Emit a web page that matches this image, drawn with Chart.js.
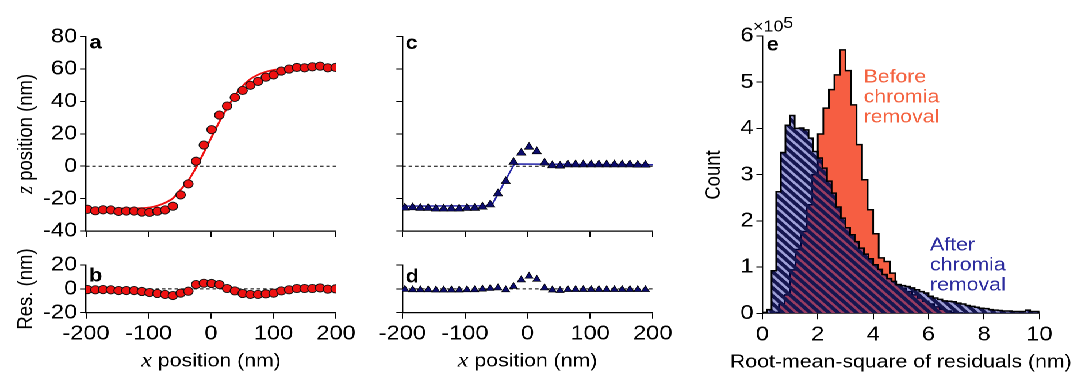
<!DOCTYPE html>
<html><head><meta charset="utf-8">
<script src="https://cdn.jsdelivr.net/npm/chart.js@4.4.1/dist/chart.umd.min.js"></script>
<style>
html,body{margin:0;padding:0;background:#fff;overflow:hidden;width:1074px;height:374px;}
#wrap{position:absolute;left:0;top:0;width:934px;height:374px;transform:scaleX(1.15);transform-origin:0 0;}
#wrap canvas{position:absolute;left:0;top:0;}
</style></head><body><div id="wrap"></div>
<script>
// ---------------- data ----------------
// panel a/b : x positions (nm), measured z (nm), fitted curve (nm), residuals (nm)
const xPosA = [-197.5,-185.1,-172.7,-160.3,-147.9,-135.5,-123.1,-110.7,-98.3,-85.9,-73.5,-61.1,-48.7,-36.3,-23.9,-11.5,0.9,13.3,25.7,38.1,50.5,62.9,75.3,87.7,100.1,112.5,124.9,137.3,149.7,162.1,174.5,186.9,199.3];
const zPosA = [-26.6,-27.5,-26.9,-27.0,-27.9,-27.7,-27.7,-28.3,-28.5,-27.8,-27.0,-24.7,-17.7,-10.9,3.1,13.1,22.6,31.6,37.2,42.5,46.8,50.0,52.4,55.0,56.4,58.8,60.0,61.0,60.8,61.4,61.8,60.8,61.0];
const fitA  = [-26.0,-26.1,-26.1,-26.1,-26.1,-26.0,-26.0,-25.9,-25.5,-24.4,-22.6,-19.8,-14.5,-8.8,-0.8,8.5,18.0,27.5,36.0,43.5,49.5,53.8,56.5,58.3,59.4,60.0,60.4,60.6,60.7,60.8,60.8,60.8,60.8];
const resA  = [-0.6,-0.8,-0.6,-0.8,-1.4,-1.4,-1.4,-2.2,-3.1,-3.9,-4.7,-5.6,-3.6,-2.0,3.6,4.7,4.5,3.6,0.3,-1.7,-3.9,-4.7,-4.7,-4.2,-3.6,-1.7,-0.8,0.3,0.3,0.3,0.8,-0.3,0.0];
// panel c/d
const xPosC = [-196,-183.6,-171.2,-158.8,-146.4,-134,-121.6,-109.2,-96.8,-84.4,-72,-59.6,-47.2,-34.8,-22.4,-10,2.4,14.8,27.2,39.6,52,64.4,76.8,89.2,101.6,114,126.4,138.8,151.2,163.6,176,188.4];
const zPosC = [-25.7,-25.5,-25.9,-25.9,-26.3,-26.3,-26.3,-26.3,-25.9,-25.9,-25.1,-23.7,-16.9,-9.3,2.5,8.2,11.9,9.1,2.1,0.4,0.2,1.0,1.0,1.0,1.0,1.0,1.0,1.0,1.0,1.0,0.8,0.8];
const fitCx = [-200,-57.5,-21,200];
const fitCz = [-24.6,-24.4,1.4,0.9];
const resC  = [-0.5,-0.8,-0.8,-0.8,-1.0,-1.0,-1.0,-1.0,-0.8,-0.8,-0.3,0.3,0.8,-0.8,2.0,7.5,10.6,8.0,0.8,-1.0,-1.4,-0.6,-0.6,-0.6,-0.6,-0.6,-0.6,-0.6,-0.6,-0.6,-0.6,-0.6];
// panel e : histograms (counts in units of 1e5)
const beforeEdges = [0,0.2,0.4,0.6,0.8,1,1.2,1.4,1.6,1.8,2,2.2,2.4,2.6,2.8,3,3.2,3.4,3.6,3.8,4,4.2,4.4,4.6,4.8,5,5.2,5.4,5.6,5.8,6,6.2,6.4,6.6,6.8,7,7.2,7.4,7.6,7.8,8,8.2,8.4,8.6,8.8,9,9.2,9.4,9.6,9.8,10];
const beforeCounts = [0,0,0.02,0.19,0.40,0.94,1.38,1.77,2.35,3.00,3.88,4.44,4.84,5.16,5.70,5.25,4.51,3.65,2.89,2.24,1.72,1.20,1.12,0.87,0.62,0.54,0.47,0.40,0.33,0.26,0.20,0.14,0.09,0.05,0.02,0.01,0,0,0,0,0,0,0,0,0,0,0,0,0,0];
const afterEdges = [0,0.167,0.333,0.5,0.667,0.833,1,1.167,1.333,1.5,1.667,1.833,2,2.167,2.333,2.5,2.667,2.833,3,3.167,3.333,3.5,3.667,3.833,4,4.167,4.333,4.5,4.667,4.833,5,5.167,5.333,5.5,5.667,5.833,6,6.167,6.333,6.5,6.667,6.833,7,7.167,7.333,7.5,7.667,7.833,8,8.167,8.333,8.5,8.667,8.833,9,9.167,9.333,9.5,9.667,9.833,10];
const afterCounts = [0.02,0.08,0.92,2.63,3.48,4.07,4.28,4.00,4.01,3.97,3.79,3.50,3.36,3.14,2.86,2.60,2.30,2.06,1.85,1.70,1.55,1.41,1.28,1.18,1.05,0.95,0.84,0.75,0.69,0.62,0.60,0.58,0.55,0.51,0.47,0.44,0.37,0.33,0.30,0.27,0.26,0.25,0.22,0.20,0.17,0.15,0.13,0.11,0.10,0.08,0.07,0.06,0.05,0.05,0.04,0.04,0.04,0.07,0.04,0.04];
// tick labels
const xTicksAB = [-200,-100,0,100,200];
const yTicksA = [-40,-20,0,20,40,60,80];
const yTicksB = [-20,0,20];
const xTicksE = [0,2,4,6,8,10];
const yTicksE = [0,1,2,3,4,5,6];

// ---------------- layout helpers ----------------
const SX = 1074/934, W = 934, H = 374;
const L = px => px/SX;
const FONT = "'Liberation Sans', Arial, sans-serif";
const FS = 18.5, TFS = 20.5;
Chart.defaults.font.family = FONT;
Chart.defaults.font.size = TFS;
Chart.defaults.color = '#000';

const toPts = (xs, ys) => xs.map((x,i)=>({x, y: ys[i]}));
const stepPts = (edges, counts) => edges.map((e,i)=>({x:e, y: i<counts.length ? counts[i] : 0}));

function textPlugin(items){
  return {id:'txt'+Math.random().toString(36).slice(2), afterDraw(chart){
    const ctx = chart.ctx;
    items.forEach(it=>{
      ctx.save();
      ctx.translate(L(it.x), it.y);
      if (it.rot) ctx.rotate(it.rot);
      let total = 0;
      it.parts.forEach(p=>{ctx.font=p.font; p.w = ctx.measureText(p.t).width; total += p.w;});
      let cx = it.align==='center' ? -total/2 : (it.align==='right' ? -total : 0);
      ctx.textAlign='left'; ctx.textBaseline='alphabetic';
      it.parts.forEach(p=>{ctx.font=p.font; ctx.fillStyle=p.color||'#000'; ctx.fillText(p.t, cx, p.dy||0); cx += p.w;});
      ctx.restore();
    });
  }};
}
const sans = (s,w) => `${w||''} ${s}px ${FONT}`;
const ital = s => `italic ${s}px 'Liberation Serif', 'Times New Roman', serif`;

function axis(min,max,ticks,labels,size,isY){
  return {
    type:'linear', min, max,
    afterBuildTicks(s){ s.ticks = ticks.map(v=>({value:v})); },
    afterFit(s){ if(isY) s.width = size; else s.height = size; },
    ticks:{display:labels, padding: isY ? 2.5 : 3, font:{size:TFS}, color:'#000', maxRotation:0, autoSkip:false},
    grid:{display:true, drawOnChartArea:false, drawTicks:true, tickLength: isY ? 5.2 : 6, tickColor:'#000', color:'#000', lineWidth:1},
    border:{display:true, color:'#000', width:1.2}
  };
}

function makeChart(area, xs, ys, datasets, texts){
  const c = document.createElement('canvas');
  c.width = W; c.height = H;
  document.getElementById('wrap').appendChild(c);
  const Wy = 40, Hx = xs.labels ? 50 : 10;
  return new Chart(c, {
    type:'line',
    data:{datasets},
    options:{
      responsive:false, animation:false, devicePixelRatio:2,
      layout:{padding:{left:L(area.l)-Wy, top:area.t, right:W-L(area.r), bottom:H-area.b-Hx}},
      plugins:{legend:{display:false}, tooltip:{enabled:false}},
      scales:{
        x: axis(xs.min, xs.max, xs.ticks, xs.labels, Hx, false),
        y: axis(ys.min, ys.max, ys.ticks, ys.labels, Wy, true)
      }
    },
    plugins:[textPlugin(texts)]
  });
}

const zeroLine = (min,max) => ({data:[{x:min,y:0},{x:max,y:0}], borderColor:'#000', borderWidth:1, borderDash:[3,2.5], pointRadius:0, fill:false});
const RED = '#EE1111', NAVY = '#0B0B6B';
const redDots = (pts) => ({data:pts, showLine:false, pointStyle:'circle', pointRadius:4.1, pointBackgroundColor:RED, pointBorderColor:'#111', pointBorderWidth:0.9});
const triDots = (pts,r) => ({data:pts, showLine:false, pointStyle:'triangle', pointRadius:r, pointBackgroundColor:NAVY, pointBorderColor:'#000', pointBorderWidth:0.6});

const xTitle = (cx) => ({x:cx, y:366.5, align:'center', parts:[{t:'x', font:ital(21)},{t:' position (nm)', font:sans(FS)}]});
const letter = (t,x,y) => ({x, y, align:'left', parts:[{t, font:sans(19,'bold')}]});

// ---- panel a
makeChart({l:86,r:336,t:36.7,b:231},
  {min:-200,max:200,ticks:xTicksAB,labels:false},
  {min:-40,max:80,ticks:yTicksA,labels:true},
  [redDots(toPts(xPosA,zPosA)),
   {data:toPts(xPosA,fitA), borderColor:'#F01010', borderWidth:1.8, pointRadius:0, cubicInterpolationMode:'monotone', fill:false},
   zeroLine(-200,200)],
  [letter('a',89.5,48.5),
   {x:32, y:134, rot:-Math.PI/2, align:'center', parts:[{t:'z', font:ital(21)},{t:' position (nm)', font:sans(FS)}]}]);

// ---- panel b
makeChart({l:86,r:336,t:265,b:312.7},
  {min:-200,max:200,ticks:xTicksAB,labels:true},
  {min:-20,max:20,ticks:yTicksB,labels:true},
  [redDots(toPts(xPosA,resA)), zeroLine(-200,200)],
  [letter('b',89,281.7), xTitle(211),
   {x:32, y:289, rot:-Math.PI/2, align:'center', parts:[{t:'Res. (nm)', font:sans(FS)}]}]);

// ---- panel c
makeChart({l:402.3,r:652.7,t:36.7,b:231},
  {min:-200,max:200,ticks:xTicksAB,labels:false},
  {min:-40,max:80,ticks:yTicksA,labels:false},
  [triDots(toPts(xPosC,zPosC),4.6),
   {data:toPts(fitCx,fitCz), borderColor:'#2626A8', borderWidth:1.5, pointRadius:0, fill:false, tension:0},
   zeroLine(-200,200)],
  [letter('c',405.5,49)]);

// ---- panel d
makeChart({l:402.3,r:652.7,t:265,b:312.7},
  {min:-200,max:200,ticks:xTicksAB,labels:true},
  {min:-20,max:20,ticks:yTicksB,labels:false},
  [triDots(toPts(xPosC,resC),4.0), zeroLine(-200,200)],
  [letter('d',405.5,282.5), xTitle(527.5)]);

// ---- panel e
function hatch(){
  const P = 8, s = 4;
  const c = document.createElement('canvas'); c.width = P*s; c.height = P*s;
  const g = c.getContext('2d'); g.scale(s,s);
  g.fillStyle = 'rgba(0,6,150,0.38)'; g.fillRect(0,0,P,P);
  g.strokeStyle = '#151650'; g.lineWidth = 3.4;
  g.beginPath();
  g.moveTo(-1,-1); g.lineTo(P+1,P+1);
  g.moveTo(-1,P-1); g.lineTo(1,P+1);
  g.moveTo(P-1,-1); g.lineTo(P+1,1);
  g.stroke();
  const pat = g.createPattern(c,'repeat');
  pat.setTransform(new DOMMatrix().scale(1/s));
  return pat;
}

makeChart({l:762.3,r:1039.3,t:36,b:313.3},
  {min:0,max:10,ticks:xTicksE,labels:true},
  {min:0,max:6,ticks:yTicksE,labels:true},
  [{data:stepPts(afterEdges,afterCounts), stepped:true, borderColor:'#000', borderWidth:1.5, pointRadius:0, fill:'origin', backgroundColor:hatch()},
   {data:stepPts(beforeEdges,beforeCounts), stepped:true, borderColor:'#000', borderWidth:1.5, pointRadius:0, fill:'origin', backgroundColor:'#F65E42'}],
  [letter('e',766.5,50.7),
   {x:753, y:31.7, align:'left', parts:[{t:'\u00d710', font:sans(15.5)},{t:'5', font:sans(15.5), dy:-3.5}]},
   {x:720, y:175, rot:-Math.PI/2, align:'center', parts:[{t:'Count', font:sans(FS)}]},
   {x:900.8, y:367.3, align:'center', parts:[{t:'Root-mean-square of residuals (nm)', font:sans(FS)}]},
   {x:863.5, y:82.3, parts:[{t:'Before', font:sans(FS), color:'#F4623F'}]},
   {x:863.5, y:102.6, parts:[{t:'chromia', font:sans(FS), color:'#F4623F'}]},
   {x:863.5, y:122.7, parts:[{t:'removal', font:sans(FS), color:'#F4623F'}]},
   {x:930, y:250.7, parts:[{t:'After', font:sans(FS), color:'#2B2B9E'}]},
   {x:930, y:270.7, parts:[{t:'chromia', font:sans(FS), color:'#2B2B9E'}]},
   {x:930, y:290.7, parts:[{t:'removal', font:sans(FS), color:'#2B2B9E'}]}]);
</script></body></html>
